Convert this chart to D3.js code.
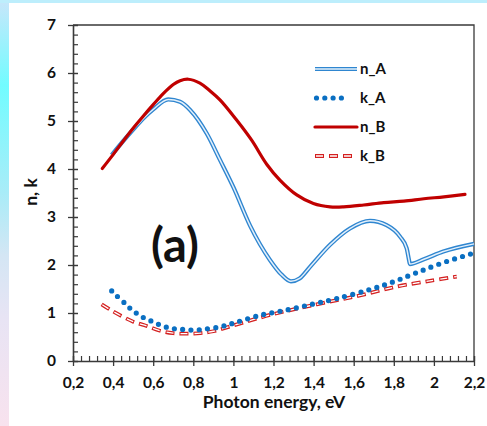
<!DOCTYPE html>
<html><head><meta charset="utf-8">
<script src="https://cdn.jsdelivr.net/npm/d3@7"></script>
<style>
html,body{margin:0;padding:0;background:#fff;}
svg{display:block;}
text{font-family:Lato,"Open Sans",sans-serif;font-weight:bold;fill:#111;}
</style></head>
<body><svg id="c" width="487" height="426"></svg>
<script>
// ---- data (photon energy eV, value) ----
const nA = [[0.393,4.29],[0.45,4.58],[0.5,4.82],[0.55,5.05],[0.6,5.24],[0.675,5.45],[0.734,5.40],[0.784,5.23],[0.867,4.74],[0.933,4.19],[1.0,3.62],[1.083,2.82],[1.183,2.10],[1.24,1.80],[1.287,1.66],[1.33,1.72],[1.382,1.96],[1.482,2.42],[1.581,2.76],[1.681,2.92],[1.764,2.83],[1.831,2.59],[1.864,2.35],[1.876,2.10],[1.88,2.02],[1.95,2.12],[2.047,2.28],[2.2,2.44]];
const kA = [[0.393,1.46],[0.41,1.39],[0.459,1.20],[0.484,1.10],[0.506,1.03],[0.534,0.94],[0.571,0.87],[0.606,0.80],[0.645,0.735],[0.687,0.68],[0.73,0.667],[0.775,0.646],[0.825,0.65],[0.867,0.67],[0.933,0.71],[0.975,0.756],[1.016,0.81],[1.141,0.96],[1.274,1.07],[1.4,1.19],[1.515,1.30],[1.681,1.49],[1.798,1.65],[1.914,1.84],[2.047,2.05],[2.2,2.25]];
const nB = [[0.346,4.01],[0.4,4.30],[0.45,4.58],[0.5,4.85],[0.55,5.10],[0.6,5.34],[0.65,5.57],[0.7,5.76],[0.734,5.84],[0.775,5.87],[0.833,5.79],[0.88,5.64],[0.933,5.44],[1.016,5.02],[1.091,4.60],[1.166,4.10],[1.232,3.77],[1.316,3.46],[1.399,3.28],[1.482,3.21],[1.55,3.21],[1.65,3.25],[1.75,3.30],[1.85,3.33],[1.95,3.38],[2.05,3.42],[2.155,3.47]];
const kB = [[0.343,1.18],[0.401,1.03],[0.5,0.82],[0.567,0.73],[0.634,0.63],[0.70,0.58],[0.767,0.57],[0.834,0.58],[0.9,0.62],[1.0,0.74],[1.183,0.96],[1.415,1.18],[1.615,1.35],[1.814,1.55],[1.98,1.67],[2.114,1.76]];
const seriesNames = ["n_A","k_A","n_B","k_B"];
const xTicks = [0.2,0.4,0.6,0.8,1.0,1.2,1.4,1.6,1.8,2.0,2.2];
const yTicks = [0,1,2,3,4,5,6,7];
const xTitle = "Photon energy, eV";
const yTitle = "n, k";
const panelLabel = "(a)";

const svg = d3.select("#c");
// background
const defs = svg.append("defs");
const g1 = defs.append("linearGradient").attr("id","lg").attr("x1",0).attr("y1",0).attr("x2",0).attr("y2",1);
[[0,"#c8e6fa"],[0.2,"#72fcff"],[0.45,"#a8ecf8"],[0.6,"#d4e6f4"],[0.75,"#e8e4f4"],[1,"#f8e2ee"]].forEach(s=>g1.append("stop").attr("offset",s[0]).attr("stop-color",s[1]));
svg.append("rect").attr("x",0).attr("y",0).attr("width",9).attr("height",426).attr("fill","url(#lg)");
svg.append("rect").attr("x",0).attr("y",0).attr("width",487).attr("height",3).attr("fill","#bdeefc");
svg.append("rect").attr("x",9).attr("y",3).attr("width",478).attr("height",423).attr("fill","#fff");

const L=73, R=474, T=25, B=361;
const x = d3.scaleLinear().domain([0.2,2.2]).range([L,R]);
const y = d3.scaleLinear().domain([0,7]).range([B,T]);
const fmt = d => (Math.round(d*10)/10).toString().replace(".",",");

const axCol = "#3a3a3a";
svg.append("path").attr("d",`M${L},${T}H${R}V${B}`).attr("fill","none").attr("stroke",axCol).attr("stroke-width",1.3);

const xMinor = d3.range(0,51).map(i=>0.2+i*0.04);
const yMinor = d3.range(0,36).map(i=>i*0.2);
svg.append("g").attr("transform",`translate(0,${B})`)
  .call(d3.axisBottom(x).tickValues(xMinor).tickSize(-5).tickFormat(""))
  .call(g=>{g.select(".domain").remove();g.selectAll("line").attr("stroke",axCol).attr("stroke-width",1.2);});
svg.append("g").attr("transform",`translate(${L},0)`)
  .call(d3.axisLeft(y).tickValues(yMinor).tickSize(-5).tickFormat(""))
  .call(g=>{g.select(".domain").remove();g.selectAll("line").attr("stroke",axCol).attr("stroke-width",1.2);});
const xa = svg.append("g").attr("transform",`translate(0,${B})`)
  .call(d3.axisBottom(x).tickValues(xTicks).tickSize(5).tickSizeOuter(0).tickPadding(11).tickFormat(fmt));
const ya = svg.append("g").attr("transform",`translate(${L},0)`)
  .call(d3.axisLeft(y).tickValues(yTicks).tickSize(5).tickSizeOuter(0).tickPadding(12).tickFormat(d=>d));
[xa,ya].forEach(a=>{
  a.select(".domain").attr("stroke",axCol).attr("stroke-width",1.6);
  a.selectAll("line").attr("stroke",axCol).attr("stroke-width",1.3);
  a.selectAll("text").style("font-size","15.5px").style("font-family","Lato,sans-serif").style("font-weight","bold").attr("fill","#111");
});
xa.selectAll(".tick line").attr("y1",-5);
ya.selectAll(".tick line").attr("x1",5);

svg.append("text").attr("x",274).attr("y",408).attr("text-anchor","middle").style("font-size","17.5px").text(xTitle);
svg.append("text").attr("transform","translate(37,192) rotate(-90)").attr("text-anchor","middle").style("font-size","17.5px").text(yTitle);
svg.append("text").attr("x",175).attr("y",262).attr("text-anchor","middle").style("font-size","47px").text(panelLabel);

const lineM = d3.line().x(d=>x(d[0])).y(d=>y(d[1])).curve(d3.curveMonotoneX);
const lineC = d3.line().x(d=>x(d[0])).y(d=>y(d[1])).curve(d3.curveCatmullRom.alpha(0.5));

const blue="#2f86d0", dotBlue="#0a6fc2", red="#c00000", red2="#d42020";
function drawNA(sel, d){
  sel.append("path").attr("d",d).attr("fill","none").attr("stroke",blue).attr("stroke-width",4.2);
  sel.append("path").attr("d",d).attr("fill","none").attr("stroke","#e4f0fb").attr("stroke-width",1.5);
}
function drawKA(sel,d){
  sel.append("path").attr("d",d).attr("fill","none").attr("stroke",dotBlue).attr("stroke-width",5.2).attr("stroke-linecap","round").attr("stroke-dasharray","0,8.3");
}
function drawNB(sel,d){
  sel.append("path").attr("d",d).attr("fill","none").attr("stroke",red).attr("stroke-width",3.2).attr("stroke-linecap","round");
}
function drawKB(sel,d){
  sel.append("path").attr("d",d).attr("fill","none").attr("stroke",red2).attr("stroke-width",3.8).attr("stroke-dasharray","9,5");
  sel.append("path").attr("d",d).attr("fill","none").attr("stroke","#fff").attr("stroke-width",1.3).attr("stroke-dasharray","7,7").attr("stroke-dashoffset",-1);
}
const plot = svg.append("g");
drawKB(plot.append("g"), lineC(kB));
drawKA(plot.append("g"), lineC(kA));
drawNA(plot.append("g"), lineM(nA));
drawNB(plot.append("g"), lineC(nB));

const lg = svg.append("g");
const rows=[69,98,127,156];
const drawers=[drawNA,drawKA,drawNB,drawKB];
seriesNames.forEach((n,i)=>{
  const yy=rows[i];
  const x0 = i===1?316.5:315, x1 = i===1?349:357;
  drawers[i](lg.append("g"), `M${x0},${yy}H${x1}`);
  lg.append("text").attr("x",360).attr("y",yy).attr("dy","0.35em").style("font-size","15px").text(n);
});
</script></body></html>
